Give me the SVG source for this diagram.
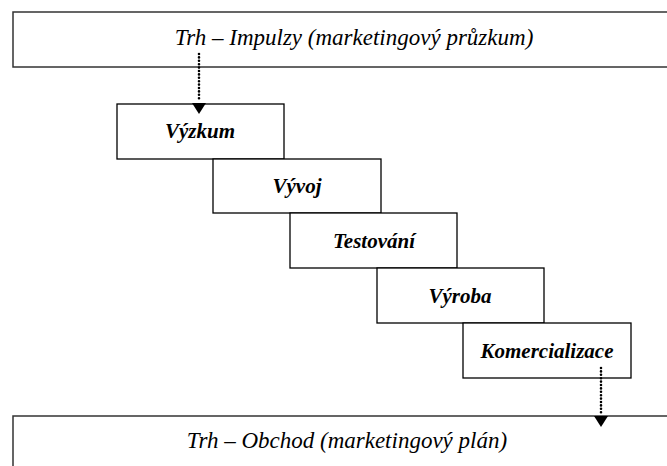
<svg xmlns="http://www.w3.org/2000/svg" width="667" height="466" viewBox="0 0 667 466">
  <defs>
    <style>
      .box { fill: #fff; stroke: #000; stroke-width: 1.3; }
      .band { fill: #fff; stroke: #333; stroke-width: 1.5; }
      .band-label { font-family: "Liberation Serif", "DejaVu Serif", "Times New Roman", serif; font-style: italic; font-size: 23px; fill: #000; text-anchor: middle; }
      .node-label { font-family: "Liberation Serif", "DejaVu Serif", "Times New Roman", serif; font-style: italic; font-weight: bold; font-size: 21px; fill: #000; text-anchor: middle; }
      .dots { fill: none; stroke: #000; stroke-width: 2.6; stroke-linecap: round; stroke-dasharray: 0 3.4; }
      .head { fill: #000; }
    </style>
  </defs>

  <g id="market-impulses">
    <rect class="band" x="13" y="12" width="670" height="55"/>
    <text class="band-label" x="354" y="45">Trh – Impulzy (marketingový průzkum)</text>
  </g>

  <g id="research">
    <rect class="box" x="117" y="104" width="167" height="55"/>
    <text class="node-label" x="200" y="138">Výzkum</text>
  </g>
  <g id="development">
    <rect class="box" x="213" y="159" width="168" height="54"/>
    <text class="node-label" x="297" y="193">Vývoj</text>
  </g>
  <g id="testing">
    <rect class="box" x="290" y="213" width="167" height="55"/>
    <text class="node-label" x="374" y="248">Testování</text>
  </g>
  <g id="production">
    <rect class="box" x="377" y="268" width="167" height="55"/>
    <text class="node-label" x="460" y="303">Výroba</text>
  </g>
  <g id="commercialization">
    <rect class="box" x="463" y="323" width="168" height="55"/>
    <text class="node-label" x="547" y="358">Komercializace</text>
  </g>

  <g id="market-trade">
    <rect class="band" x="13" y="416" width="670" height="70"/>
    <text class="band-label" x="347" y="448">Trh – Obchod (marketingový plán)</text>
  </g>

  <g id="connectors">
    <line class="dots" x1="199" y1="54" x2="199" y2="101"/>
    <path class="head" d="M192,103 L206,103 L199,114 Z"/>
    <line class="dots" x1="601" y1="368" x2="601" y2="413"/>
    <path class="head" d="M594,416 L608,416 L601,427 Z"/>
  </g>
</svg>
